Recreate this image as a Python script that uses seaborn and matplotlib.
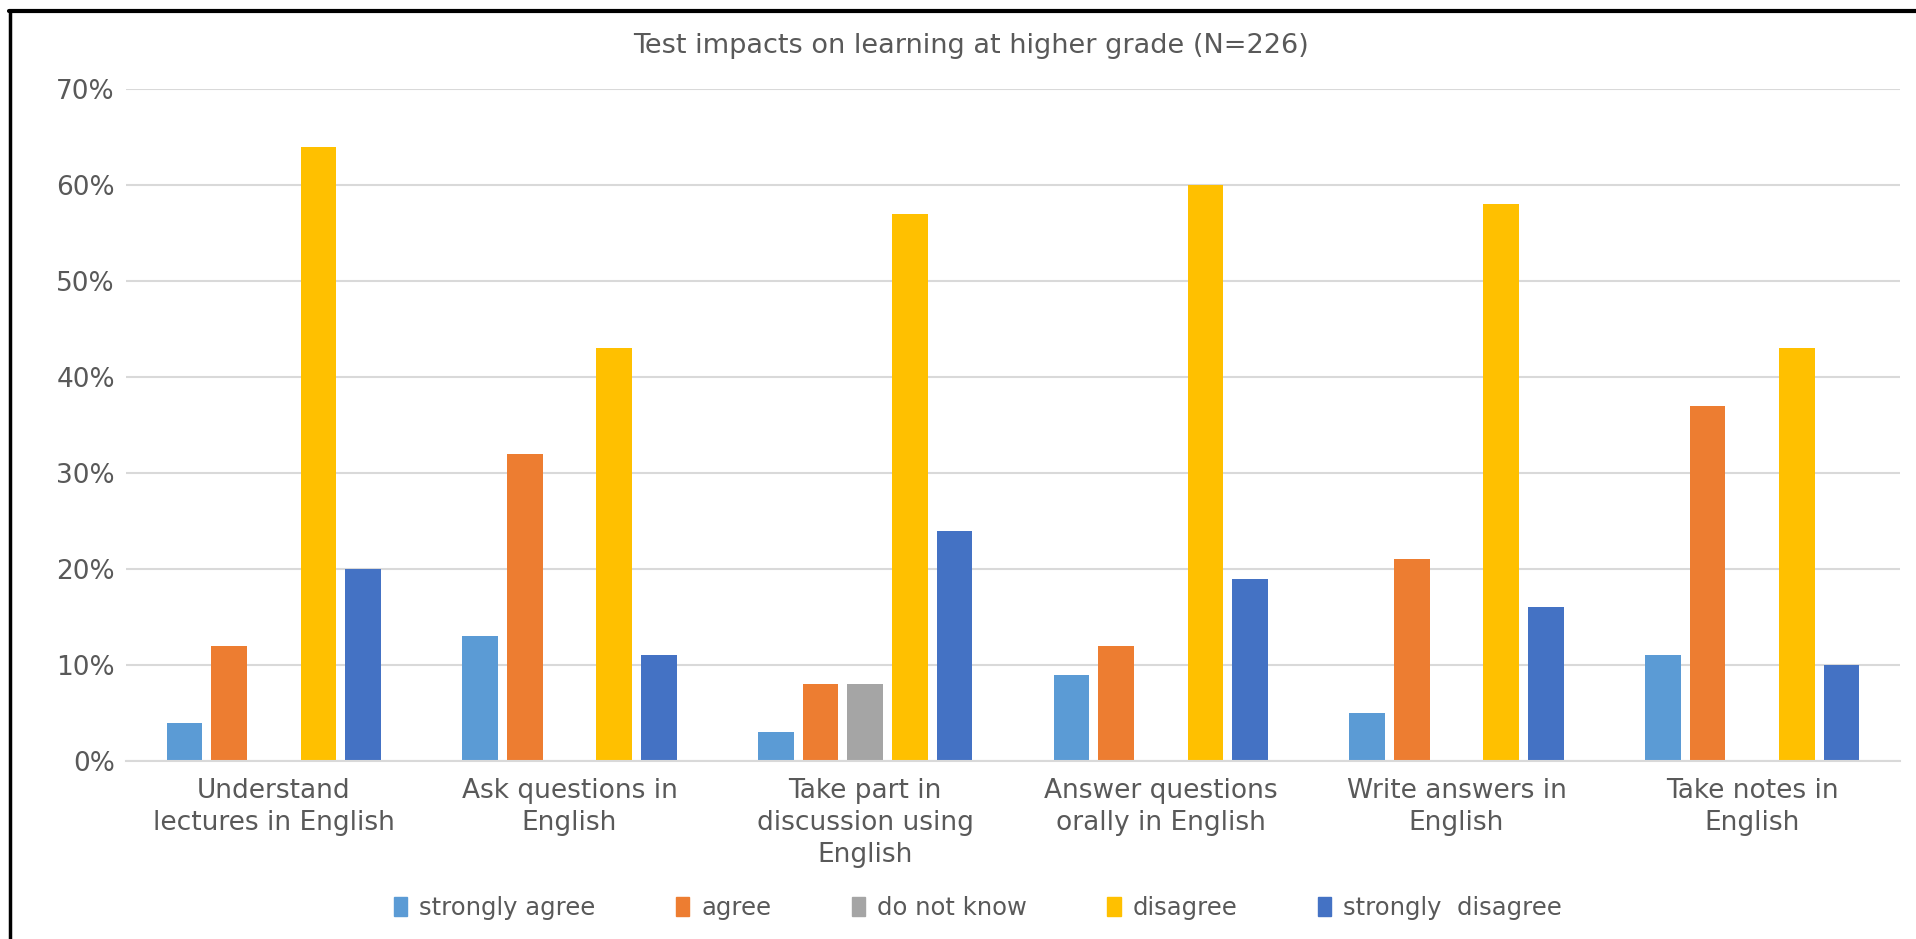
import numpy as np
import pandas as pd
import matplotlib
matplotlib.use("Agg")
import matplotlib.pyplot as plt
import seaborn as sns
from matplotlib.lines import Line2D
from matplotlib.ticker import FuncFormatter

# ---- data ----
items = [
    "Understand\nlectures in English",
    "Ask questions in\nEnglish",
    "Take part in\ndiscussion using\nEnglish",
    "Answer questions\norally in English",
    "Write answers in\nEnglish",
    "Take notes in\nEnglish",
]
responses = ["strongly agree", "agree", "do not know", "disagree", "strongly  disagree"]

strongly_agree = [0.04, 0.13, 0.03, 0.09, 0.05, 0.11]
agree = [0.12, 0.32, 0.08, 0.12, 0.21, 0.37]
do_not_know = [0.00, 0.00, 0.08, 0.00, 0.00, 0.00]
disagree = [0.64, 0.43, 0.57, 0.60, 0.58, 0.43]
strongly_disagree = [0.20, 0.11, 0.24, 0.19, 0.16, 0.10]

colors = ["#5B9BD5", "#ED7D31", "#A5A5A5", "#FFC000", "#4472C4"]
text_color = "#595959"

series = [strongly_agree, agree, do_not_know, disagree, strongly_disagree]
rows = []
for resp, vals in zip(responses, series):
    for item, v in zip(items, vals):
        rows.append({"item": item, "response": resp, "value": v})
df = pd.DataFrame(rows)

# ---- plot ----
sns.set_style("white")
plt.rcParams["font.family"] = ["DejaVu Sans"]

fig = plt.figure(figsize=(19.16, 9.39), dpi=100)
ax = fig.add_axes([126 / 1916, 1 - 761 / 939, (1900 - 126) / 1916, (761 - 89) / 939])

sns.barplot(
    data=df, x="item", y="value", hue="response",
    order=items, hue_order=responses, palette=colors,
    width=0.756, gap=0.2, saturation=1, linewidth=0, ax=ax,
)

ax.set_ylim(0, 0.7)
ax.set_yticks(np.arange(0, 0.71, 0.1))
ax.yaxis.set_major_formatter(FuncFormatter(lambda v, p: f"{v * 100:.0f}%"))
ax.set_xlim(-0.5, len(items) - 0.5)
ax.grid(axis="y", color="#D9D9D9", linewidth=1.5)
ax.set_axisbelow(True)
for s in ["top", "right", "left"]:
    ax.spines[s].set_visible(False)
ax.spines["bottom"].set_color("#D9D9D9")
ax.spines["bottom"].set_linewidth(1.5)
ax.tick_params(axis="y", length=0, pad=8, labelsize=19, labelcolor=text_color)
ax.tick_params(axis="x", length=0, pad=12, labelsize=19, labelcolor=text_color)
for lbl in ax.get_xticklabels():
    lbl.set_linespacing(1.3)
ax.set_xlabel("")
ax.set_ylabel("")

ax.get_legend().remove()
handles = [plt.Rectangle((0, 0), 1, 1, color=c) for c in colors]
fig.legend(
    handles, responses, loc="center", bbox_to_anchor=(978 / 1916, 1 - 908 / 939),
    ncol=5, frameon=False, fontsize=17.5, labelcolor=text_color,
    handlelength=0.55, handleheight=0.8, handletextpad=0.5, columnspacing=3.3,
)

fig.text(971 / 1916, 1 - 46 / 939, "Test impacts on learning at higher grade (N=226)",
         ha="center", va="center", fontsize=19.5, color=text_color)

# black frame around the chart (left and top edges visible)
fig.add_artist(Line2D([9.5 / 1916, 9.5 / 1916], [0, 1 - 11 / 939], color="black", linewidth=2.5))
fig.add_artist(Line2D([8.5 / 1916, 1], [1 - 11 / 939, 1 - 11 / 939], color="black", linewidth=3))

fig.savefig("out.png", dpi=100, facecolor="white")
